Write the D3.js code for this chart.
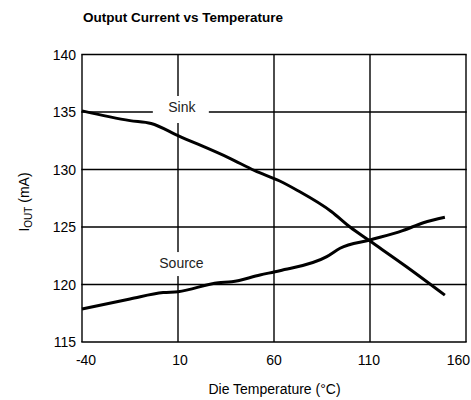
<!DOCTYPE html>
<html>
<head>
<meta charset="utf-8">
<script src="https://cdn.jsdelivr.net/npm/d3@7"></script>
<style>
  html, body { margin: 0; padding: 0; background: #fff; }
  svg { display: block; }
</style>
</head>
<body>
<script>
// ---- Data ----
const xTicks = [-40, 10, 60, 110, 160];
const yTicks = [115, 120, 125, 130, 135, 140];

const sinkTemp    = [-40, -15, -4, 10, 37, 50, 63, 72, 90, 99.6, 110, 129, 149];
const sinkCurrent = [135.1, 134.25, 134.0, 132.95, 130.97, 129.9, 129.0, 128.2, 126.33, 125.0, 123.78, 121.55, 119.08];

const sourceTemp    = [-40, -15, 2.3, 10, 31, 38, 52.7, 63, 87.5, 94.4, 110, 127, 137.8, 149];
const sourceCurrent = [117.87, 118.74, 119.3, 119.37, 120.16, 120.24, 120.83, 121.2, 122.42, 123.15, 123.87, 124.68, 125.37, 125.84];

const seriesLabels = [
  { name: "Sink",   t: 12, i: 135.0 },
  { name: "Source", t: 11.8, i: 121.43 }
];

const title = "Output Current vs Temperature";
const xTitle = "Die Temperature (°C)";

// ---- Chart ----
const W = 471, H = 400;
const svg = d3.select("body").append("svg").attr("width", W).attr("height", H);

const x = d3.scaleLinear().domain([-40, 160]).range([82, 466]);
const y = d3.scaleLinear().domain([115, 140]).range([342, 54.5]);

const font = "'Liberation Sans', Arial, sans-serif";

// title
svg.append("text")
  .attr("x", 83).attr("y", 22)
  .attr("font-family", "'Liberation Sans Narrow', 'Arial Narrow', sans-serif")
  .attr("font-weight", "bold").attr("font-size", 13.5)
  .text(title);

// grid
const g = svg.append("g");
g.selectAll("line.v").data(xTicks).join("line")
  .attr("x1", d => x(d)).attr("x2", d => x(d))
  .attr("y1", y(115)).attr("y2", y(140))
  .attr("stroke", "#000").attr("stroke-width", 1.4);
g.selectAll("line.h").data(yTicks).join("line")
  .attr("y1", d => y(d)).attr("y2", d => y(d))
  .attr("x1", x(-40) - 0.7).attr("x2", x(160) + 0.7)
  .attr("stroke", "#000").attr("stroke-width", 1.4);

// tick labels
svg.append("g").selectAll("text").data(yTicks).join("text")
  .attr("x", 76).attr("y", d => y(d) + 5)
  .attr("text-anchor", "end")
  .attr("font-family", font).attr("font-size", 14)
  .text(d => d);

const xOff = { "-40": 4, "10": 2, "60": 0, "110": -1 };
svg.append("g").selectAll("text").data(xTicks).join("text")
  .attr("x", d => d === 160 ? W - 1 : x(d) + xOff[d]).attr("y", 365)
  .attr("text-anchor", d => d === 160 ? "end" : "middle")
  .attr("font-family", font).attr("font-size", 14)
  .text(d => d);

// axis titles
svg.append("text")
  .attr("x", 274.5).attr("y", 394)
  .attr("text-anchor", "middle")
  .attr("font-family", font).attr("font-size", 14)
  .text(xTitle);

const yl = svg.append("text")
  .attr("transform", "translate(29,202) rotate(-90)")
  .attr("text-anchor", "middle")
  .attr("font-family", font).attr("font-size", 14);
yl.append("tspan").text("I");
yl.append("tspan").attr("font-size", 10).attr("dy", 3).text("OUT");
yl.append("tspan").attr("dy", -3).text(" (mA)");

// series label boxes
const lab = svg.append("g").selectAll("g").data(seriesLabels).join("g");
lab.append("rect")
  .attr("x", d => x(d.t) - 29).attr("width", 56)
  .attr("y", d => y(d.i) - 16).attr("height", d => d.name === "Sink" ? 27 : 24)
  .attr("fill", "#fff");
lab.append("text")
  .attr("x", d => x(d.t)).attr("y", d => y(d.i))
  .attr("text-anchor", "middle")
  .attr("font-family", font).attr("font-size", 14)
  .attr("fill", "#222")
  .text(d => d.name);

// curves
const line = d3.line().x(d => x(d[0])).y(d => y(d[1])).curve(d3.curveMonotoneX);
svg.append("path")
  .attr("d", line(d3.zip(sinkTemp, sinkCurrent)))
  .attr("fill", "none").attr("stroke", "#000").attr("stroke-width", 3);
svg.append("path")
  .attr("d", line(d3.zip(sourceTemp, sourceCurrent)))
  .attr("fill", "none").attr("stroke", "#000").attr("stroke-width", 3);
</script>
</body>
</html>
